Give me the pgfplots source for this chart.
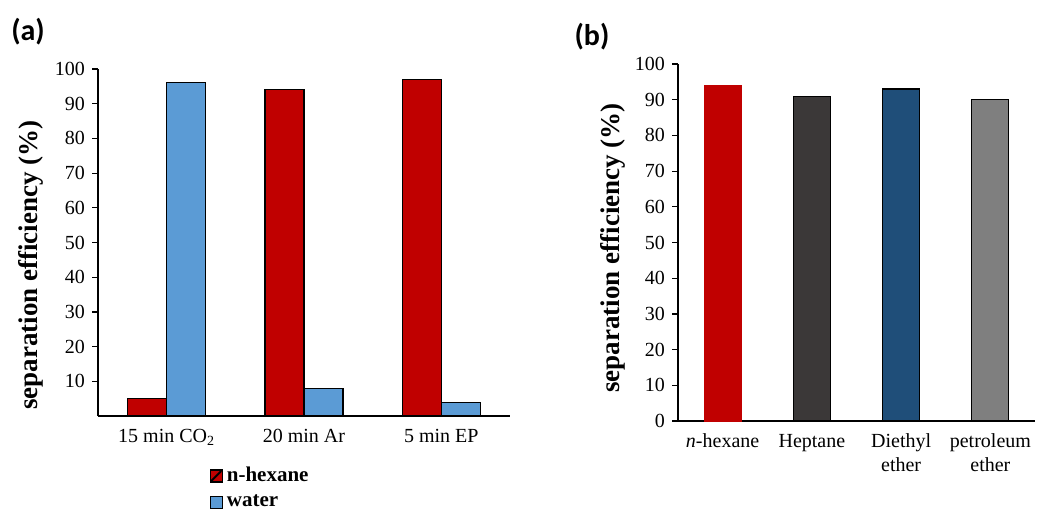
\documentclass[border=0pt]{standalone}
\usepackage{fontspec}
\setmainfont{Liberation Serif}
\newfontfamily\calibri{Carlito}
\usepackage{pgfplots}
\pgfplotsset{compat=1.18}
\definecolor{cred}{HTML}{C00000}
\definecolor{cblue}{HTML}{5B9BD5}
\definecolor{cdark}{HTML}{3B3838}
\definecolor{cnavy}{HTML}{1F4E79}
\definecolor{cgray}{HTML}{7F7F7F}
\pgfplotsset{
  myaxis/.style={
    scale only axis,
    ymin=0, ymax=100,
    axis x line*=bottom, axis y line*=left,
    axis line style={black, line width=0.6pt},
    tick align=outside, major tick length=3pt,
    x tick style={draw=none},
    y tick style={black, line width=0.6pt},
    /pgf/number format/assume math mode=true,
    tick label style={font=\fontsize{10}{12}\selectfont},
    ylabel={separation efficiency (\%)},
    every axis plot/.append style={line width=0.6pt},
  }
}
\begin{document}
\begin{tikzpicture}
\path[use as bounding box] (0,0) rectangle (518.5pt,255pt);
\node[font=\calibri\bfseries\fontsize{15}{17}\selectfont] at (14pt,239pt) {(a)};
\node[font=\calibri\bfseries\fontsize{15}{17}\selectfont] at (296pt,236.5pt) {(b)};

\begin{axis}[myaxis,
  at={(49pt,47pt)}, anchor=south west,
  width=206pt, height=173.5pt,
  xmin=-0.5, xmax=2.5,
  ybar=0pt, bar width=19.5pt,
  xtick={0,1,2},
  xticklabels={15 min CO\textsubscript{2}, 20 min Ar, 5 min EP},
  ytick={10,20,...,100},
  every axis y label/.style={at={(axis description cs:-0.163,0.435)}, rotate=90, anchor=center,
    font=\bfseries\fontsize{13.5}{15}\selectfont},
  legend style={at={(axis description cs:0.27,-0.135)}, anchor=north west, draw=none, fill=none,
    font=\bfseries\fontsize{10.5}{12}\selectfont, inner sep=0pt, row sep=1pt},
  legend cell align=left,
]
\addplot[fill=cred, draw=black,
  legend image code/.code={\draw[fill=cred, draw=black, line width=0.6pt] (0pt,-3pt) rectangle (6pt,3pt); \draw[black, line width=1pt] (0.5pt,-2.5pt) -- (5.5pt,2.5pt);}]
  coordinates {(0,5) (1,94) (2,97)};
\addplot[fill=cblue, draw=black,
  legend image code/.code={\draw[fill=cblue, draw=black, line width=0.6pt] (0pt,-3pt) rectangle (6pt,3pt);}]
  coordinates {(0,96) (1,8) (2,4)};
\legend{n-hexane, water}
\end{axis}

\begin{axis}[myaxis,
  at={(339pt,44.5pt)}, anchor=south west,
  width=178.5pt, height=178.5pt,
  xmin=-0.5, xmax=3.5,
  ybar=0pt, bar width=18.5pt,
  xtick={0,1,2,3},
  xticklabels={\textit{n}-hexane, Heptane, {Diethyl\\ether}, {petroleum\\ether}},
  xticklabel style={align=center},
  ytick={0,10,...,100},
  every axis y label/.style={at={(axis description cs:-0.182,0.485)}, rotate=90, anchor=center,
    font=\bfseries\fontsize{13.5}{15}\selectfont},
]
\addplot[fill=cred, draw=cred, bar shift=0pt] coordinates {(0,94)};
\addplot[fill=cdark, draw=black, bar shift=0pt] coordinates {(1,91)};
\addplot[fill=cnavy, draw=black, bar shift=0pt] coordinates {(2,93)};
\addplot[fill=cgray, draw=black, bar shift=0pt] coordinates {(3,90)};
\end{axis}
\end{tikzpicture}
\end{document}
